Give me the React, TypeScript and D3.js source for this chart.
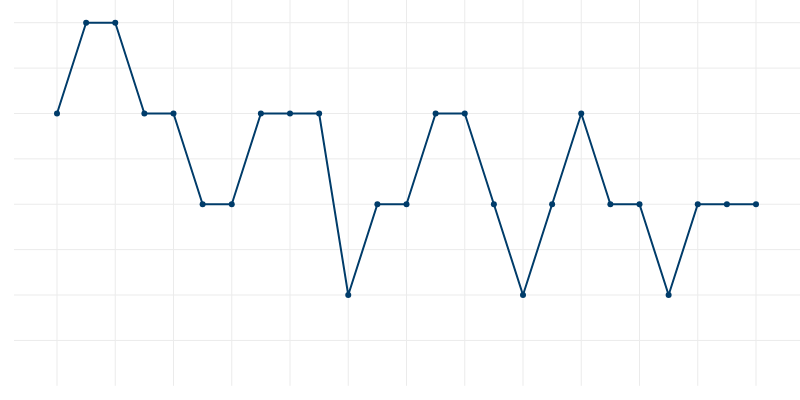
import * as d3 from 'd3';

const values = [3, 4, 4, 3, 3, 2, 2, 3, 3, 3, 1, 2, 2, 3, 3, 2, 1, 2, 3, 2, 2, 1, 2, 2, 2];
const yGridValues = [0.5, 1, 1.5, 2, 2.5, 3, 3.5, 4];

const width = 800;
const height = 400;
const lineColor = '#003c6a';
const gridColor = '#ebebeb';

const App = () => {
  const xScale = d3.scaleLinear().domain([0, values.length - 1]).range([57, 756]);
  const yScale = d3.scaleLinear().domain([0, 4.25]).range([385.8, 0]);

  const xGrid = d3.range(0, values.length, 2);

  const line = d3
    .line<number>()
    .x((_, i) => xScale(i))
    .y(d => yScale(d));

  return (
    <svg
      width={width}
      height={height}
      viewBox={`0 0 ${width} ${height}`}
      style={{ position: 'absolute', top: 0, left: 0, background: '#fff' }}
    >
      {yGridValues.map(v => (
        <line
          key={`h${v}`}
          x1={14}
          x2={width}
          y1={yScale(v)}
          y2={yScale(v)}
          stroke={gridColor}
          strokeWidth={1}
        />
      ))}
      {xGrid.map(i => (
        <line
          key={`v${i}`}
          x1={xScale(i)}
          x2={xScale(i)}
          y1={0}
          y2={yScale(0)}
          stroke={gridColor}
          strokeWidth={1}
        />
      ))}
      <path d={line(values) || ''} fill="none" stroke={lineColor} strokeWidth={2} strokeLinejoin="round" />
      {values.map((v, i) => (
        <circle key={i} cx={xScale(i)} cy={yScale(v)} r={3} fill={lineColor} />
      ))}
    </svg>
  );
};

export default App;
